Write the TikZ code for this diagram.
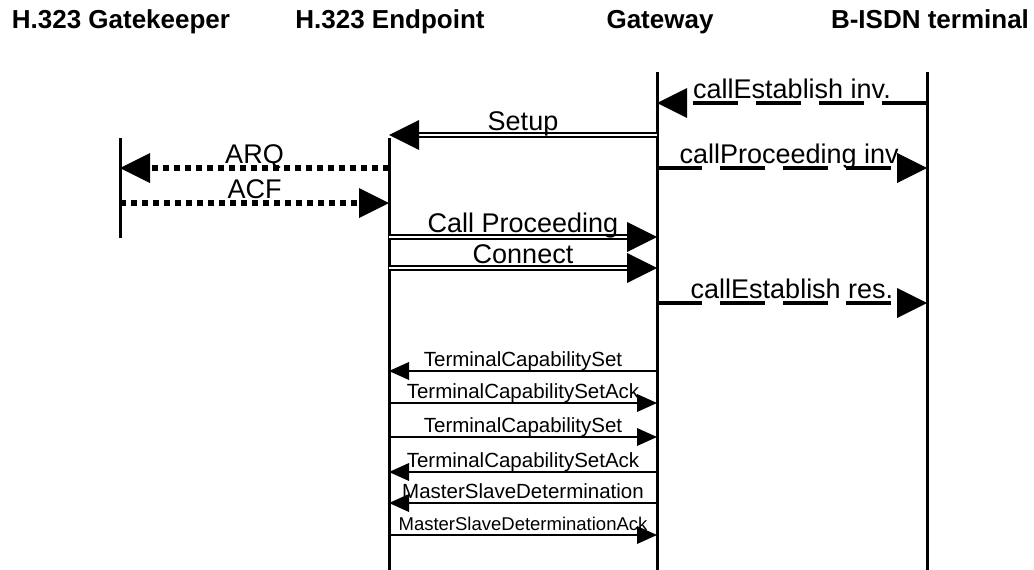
\documentclass[tikz,border=0pt]{standalone}
\usepackage{fontspec}
\setmainfont{Liberation Sans}
\usetikzlibrary{arrows.meta}

\begin{document}
\begin{tikzpicture}[
        x=1pt, y=-1pt,
        head/.style = {anchor=base, inner sep=0pt,
                    font=\bfseries\fontsize{26}{30}\selectfont},
        life/.style = {line width=3pt},
        bigtip/.style = {-{Triangle[length=30pt, width=30pt, line width=0pt]}},
        smalltip/.style = {-{Triangle[length=20pt, width=18pt, line width=0pt]}},
        dashmsg/.style = {bigtip, line width=4.5pt, dash pattern=on 45pt off 18pt},
        dotmsg/.style = {bigtip, line width=5.5pt, dash pattern=on 6pt off 5pt},
        dblmsg/.style = {bigtip, line width=2.3pt, double, double distance=2.3pt},
        thinmsg/.style = {smalltip, line width=2pt},
        lbl/.style = {anchor=base, yshift=5pt, inner sep=0pt,
                    font=\fontsize{#1}{#1}\selectfont},
        lbl/.default = 27
                    ]
        \useasboundingbox (0,0) rectangle (1034,570);
        \node (gk) [head] at (121,28) {H.323 Gatekeeper};
        \node (ep) [head] at (390,28) {H.323 Endpoint};
        \node (gw) [head] at (660,28) {Gateway};
        \node (bt) [head] at (930,28) {B-ISDN terminal};
        %
        \coordinate (gkt) at (120,138);  \coordinate (gkb) at (120,238);
        \coordinate (ept) at (389,138);  \coordinate (epb) at (389,570);
        \coordinate (gwt) at (657,72);   \coordinate (gwb) at (657,570);
        \coordinate (btt) at (927,72);   \coordinate (btb) at (927,570);
        \draw[life] (gkt) -- (gkb);
        \draw[life] (ept) -- (epb);
        \draw[life] (gwt) -- (gwb);
        \draw[life] (btt) -- (btb);
        %
        \foreach \n/\y in {1/103, 2/135, 3/168, 4/168, 5/203, 6/237, 7/268,
                    8/303, 9/371, 10/403, 11/437, 12/472, 13/503, 14/535}
            \coordinate (m\n) at (0,\y);
        %
        \draw[dashmsg] (btt |- m1) -- node[lbl] {callEstablish inv.} (gwt |- m1);
        \draw[dblmsg] (gwt |- m2) -- node[lbl] {Setup} (ept |- m2);
        \draw[dashmsg] (gwt |- m3) -- node[lbl] {callProceeding inv.} (btt |- m3);
        \draw[dotmsg] (ept |- m4) -- node[lbl] {ARQ} (gkt |- m4);
        \draw[dotmsg] (gkt |- m5) -- node[lbl] {ACF} (ept |- m5);
        \draw[dblmsg] (ept |- m6) -- node[lbl] {Call Proceeding} (gwt |- m6);
        \draw[dblmsg] (ept |- m7) -- node[lbl] {Connect} (gwt |- m7);
        \draw[dashmsg] (gwt |- m8) -- node[lbl] {callEstablish res.} (btt |- m8);
        %
        \draw[thinmsg] (gwt |- m9) -- node[lbl=20.5] {TerminalCapabilitySet} (ept |- m9);
        \draw[thinmsg] (ept |- m10) -- node[lbl=20.5] {TerminalCapabilitySetAck} (gwt |- m10);
        \draw[thinmsg] (ept |- m11) -- node[lbl=20.5] {TerminalCapabilitySet} (gwt |- m11);
        \draw[thinmsg] (gwt |- m12) -- node[lbl=20.5] {TerminalCapabilitySetAck} (ept |- m12);
        \draw[thinmsg] (gwt |- m13) -- node[lbl=20.5] {MasterSlaveDetermination} (ept |- m13);
        \draw[thinmsg] (ept |- m14) -- node[lbl=18.5] {MasterSlaveDeterminationAck} (gwt |- m14);
    \end{tikzpicture}
\end{document}
